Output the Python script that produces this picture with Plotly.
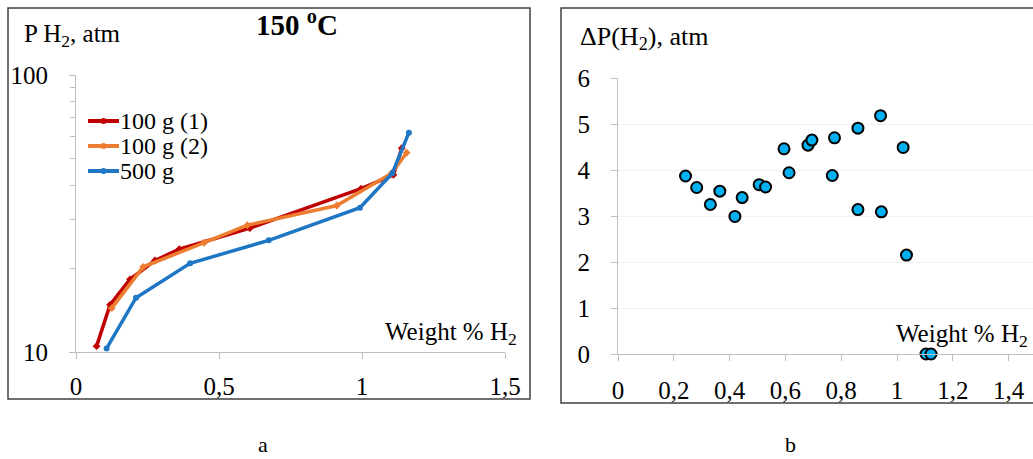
import plotly.graph_objects as go

W, H = 1033, 459
FONT = "Liberation Serif, Times New Roman, serif"

# ---- data: panel a (P H2 vs weight % H2, log scale) ----
red_x = [0.072, 0.119, 0.189, 0.276, 0.361, 0.608, 0.997, 1.110, 1.139]
red_y = [10.5, 14.8, 18.3, 21.4, 23.5, 28.0, 38.9, 43.6, 54.4]
orange_x = [0.125, 0.235, 0.448, 0.599, 0.912, 1.104, 1.156]
orange_y = [14.4, 20.3, 24.8, 28.7, 33.8, 44.2, 52.4]
blue_x = [0.107, 0.210, 0.399, 0.674, 0.993, 1.106, 1.164]
blue_y = [10.3, 15.7, 20.9, 25.3, 33.2, 44.2, 61.9]
series_names = ["100 g (1)", "100 g (2)", "500 g"]

# ---- data: panel b (delta P vs weight % H2) ----
dp_x = [0.242, 0.282, 0.331, 0.365, 0.419, 0.445, 0.506, 0.529, 0.595, 0.613, 0.681,
        0.695, 0.768, 0.776, 0.860, 0.860, 0.941, 0.944, 1.022, 1.034, 1.104, 1.122]
dp_y = [3.87, 3.62, 3.25, 3.54, 2.99, 3.40, 3.68, 3.63, 4.46, 3.94, 4.54,
        4.65, 3.88, 4.70, 4.91, 3.14, 5.18, 3.09, 4.49, 2.15, 0.0, 0.0]

# ---- tick labels ----
a_xticks = [0, 0.5, 1, 1.5]
a_xticktext = ["0", "0,5", "1", "1,5"]
a_yticks = [10, 100]
a_yticktext = ["10", "100"]
a_yminor = [20, 30, 40, 50, 60, 70, 80, 90]
b_xticks = [0, 0.2, 0.4, 0.6, 0.8, 1.0, 1.2, 1.4]
b_xticktext = ["0", "0,2", "0,4", "0,6", "0,8", "1", "1,2", "1,4"]
b_yticks = [0, 1, 2, 3, 4, 5, 6]
b_yticktext = ["0", "1", "2", "3", "4", "5", "6"]

RED, ORANGE, BLUE = "#C00000", "#ED7D31", "#1F77C4"
colors = [RED, ORANGE, BLUE]


def px(x):
    return x / W


def py(y):
    return 1 - y / H


fig = go.Figure()
for xs, ys, c, name, sym in [
    (red_x, red_y, RED, series_names[0], "diamond"),
    (orange_x, orange_y, ORANGE, series_names[1], "diamond"),
    (blue_x, blue_y, BLUE, series_names[2], "circle"),
]:
    fig.add_trace(go.Scatter(x=xs, y=ys, mode="lines+markers", name=name,
                             line=dict(color=c, width=3.5),
                             marker=dict(symbol=sym, size=6, color=c),
                             xaxis="x", yaxis="y", showlegend=False, cliponaxis=False))

fig.add_trace(go.Scatter(x=dp_x, y=dp_y, mode="markers", name="dP",
                         marker=dict(size=11, color="#00B0F0",
                                     line=dict(color="#000000", width=2)),
                         xaxis="x2", yaxis="y2", showlegend=False, cliponaxis=False))

axis_common = dict(showline=True, linecolor="#BFBFBF", linewidth=1, ticks="outside",
                   tickcolor="#BFBFBF", ticklen=6, zeroline=False, automargin=False,
                   tickfont=dict(family=FONT, size=25, color="#000000"))

fig.update_layout(
    template="none",
    width=W, height=H, margin=dict(l=0, r=0, t=0, b=0, pad=0, autoexpand=False),
    paper_bgcolor="white", plot_bgcolor="white",
    font=dict(family=FONT, color="#000000"),
    xaxis=dict(domain=[px(76), px(505)], range=[0, 1.5], anchor="y",
               tickmode="array", tickvals=a_xticks, ticktext=a_xticktext,
               showgrid=False, ticklabelstandoff=6, **axis_common),
    yaxis=dict(domain=[py(352), py(75)], type="log", range=[1, 2], anchor="x",
               tickmode="array", tickvals=a_yticks, ticktext=a_yticktext,
               minor=dict(tickmode="array", tickvals=a_yminor, ticks="outside",
                          ticklen=5, tickcolor="#BFBFBF", showgrid=False),
               showgrid=False, ticklabelstandoff=16, **axis_common),
    xaxis2=dict(domain=[px(618), 1.0], range=[0, (W - 618) / 279.0], anchor="y2",
                tickmode="array", tickvals=b_xticks, ticktext=b_xticktext,
                showgrid=False, ticklabelstandoff=8, **axis_common),
    yaxis2=dict(domain=[py(354), py(78)], range=[0, 6], anchor="x2",
                tickmode="array", tickvals=b_yticks, ticktext=b_yticktext,
                showgrid=True, gridcolor="#F2F2F2", gridwidth=1,
                ticklabelstandoff=16, **axis_common),
)

shapes = [
    dict(type="rect", xref="paper", yref="paper", x0=px(8), x1=px(530), y0=py(399), y1=py(8),
         line=dict(color="#404040", width=1.5)),
    dict(type="rect", xref="paper", yref="paper", x0=px(561), x1=px(1040), y0=py(403), y1=py(8),
         line=dict(color="#404040", width=1.5)),
]
# manual legend for panel a
leg_y = [121, 146, 171]
for c, yy in zip(colors, leg_y):
    shapes.append(dict(type="line", xref="paper", yref="paper", x0=px(88), x1=px(119),
                       y0=py(yy), y1=py(yy), line=dict(color=c, width=4)))
    shapes.append(dict(type="circle", xref="paper", yref="paper", x0=px(100.5), x1=px(106.5),
                       y0=py(yy + 3), y1=py(yy - 3), fillcolor=c, line=dict(color=c, width=0)))
fig.update_layout(shapes=shapes)

ann = []
for name, yy in zip(series_names, leg_y):
    ann.append(dict(text=name, x=px(118), y=py(yy), xanchor="left", yanchor="middle",
                    font=dict(family=FONT, size=24, color="#000000")))
ann += [
    dict(text="P H<sub>2</sub>, atm", x=px(22), y=py(36), xanchor="left", yanchor="middle",
         font=dict(family=FONT, size=25)),
    dict(text="<b>150 <sup>o</sup>C</b>", x=px(297), y=py(23), xanchor="center", yanchor="middle",
         font=dict(family=FONT, size=29)),
    dict(text="Weight % H<sub>2</sub>", x=px(519), y=py(333), xanchor="right", yanchor="middle",
         font=dict(family=FONT, size=25)),
    dict(text="ΔP(H<sub>2</sub>), atm", x=px(578), y=py(38), xanchor="left", yanchor="middle",
         font=dict(family=FONT, size=26)),
    dict(text="Weight % H<sub>2</sub>", x=px(1030), y=py(335), xanchor="right", yanchor="middle",
         font=dict(family=FONT, size=25)),
    dict(text="a", x=px(263), y=py(444), xanchor="center", yanchor="middle",
         font=dict(family=FONT, size=22)),
    dict(text="b", x=px(790), y=py(444), xanchor="center", yanchor="middle",
         font=dict(family=FONT, size=22)),
]
for a in ann:
    a["xref"] = "paper"
    a["yref"] = "paper"
    a["showarrow"] = False
fig.update_layout(annotations=ann)

fig.write_html("out.html", config={"displayModeBar": False},
               post_script="document.body.style.margin='0';")
